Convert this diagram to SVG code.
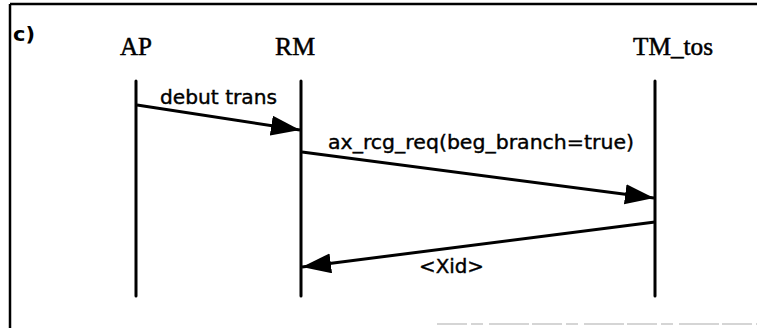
<svg xmlns="http://www.w3.org/2000/svg" width="757" height="328" viewBox="0 0 757 328">
  <style>
    .frame { stroke: #000; stroke-width: 2.5; fill: none; }
    .life { stroke: #000; stroke-width: 3; stroke-linecap: round; }
    .msg { stroke: #000; stroke-width: 3; fill: none; }
    .title { font-family: "Liberation Serif", serif; font-size: 25px; fill: #000; stroke: #000; stroke-width: 0.5; }
    .lbl { font-family: "DejaVu Sans", sans-serif; font-size: 20px; fill: #000; stroke: #000; stroke-width: 0.4; }
  </style>
  <defs>
    <marker id="ah" markerUnits="userSpaceOnUse" markerWidth="32" markerHeight="22" refX="29" refY="10" orient="auto">
      <path d="M0,0 L29,10 L0,20 Z" fill="#000"/>
    </marker>
  </defs>
  <rect width="757" height="328" fill="#fff"/>
  <g id="frame">
    <line class="frame" x1="10" y1="4" x2="757" y2="4"/>
    <line class="frame" x1="10" y1="4" x2="10" y2="328"/>
    <line x1="437" y1="324" x2="757" y2="324" stroke="#c8c8c8" stroke-width="1.5" stroke-dasharray="30 4 12 6 40 3"/>
    <text x="13" y="41" font-family="DejaVu Sans, sans-serif" font-size="19" font-weight="bold" textLength="22" lengthAdjust="spacingAndGlyphs">c)</text>
  </g>
  <g id="AP">
    <text class="title" x="120" y="55" textLength="32" lengthAdjust="spacingAndGlyphs">AP</text>
    <line class="life" x1="136" y1="81" x2="136" y2="296"/>
  </g>
  <g id="RM">
    <text class="title" x="275" y="55" textLength="40" lengthAdjust="spacingAndGlyphs">RM</text>
    <line class="life" x1="301" y1="81" x2="301" y2="296"/>
  </g>
  <g id="TM_tos">
    <text class="title" x="633" y="55" textLength="80" lengthAdjust="spacingAndGlyphs">TM_tos</text>
    <line class="life" x1="655" y1="81" x2="655" y2="296"/>
  </g>
  <g id="connectors">
    <line class="msg" x1="137" y1="105" x2="300" y2="130" marker-end="url(#ah)"/>
    <text class="lbl" x="160" y="104" textLength="117" lengthAdjust="spacingAndGlyphs">debut trans</text>
    <line class="msg" x1="302" y1="152" x2="654" y2="198" marker-end="url(#ah)"/>
    <text class="lbl" x="328" y="149" textLength="306" lengthAdjust="spacingAndGlyphs">ax_rcg_req(beg_branch=true)</text>
    <line class="msg" x1="655" y1="222" x2="302" y2="267" marker-end="url(#ah)"/>
    <text class="lbl" x="419" y="273" textLength="65" lengthAdjust="spacingAndGlyphs">&lt;Xid&gt;</text>
  </g>
</svg>
